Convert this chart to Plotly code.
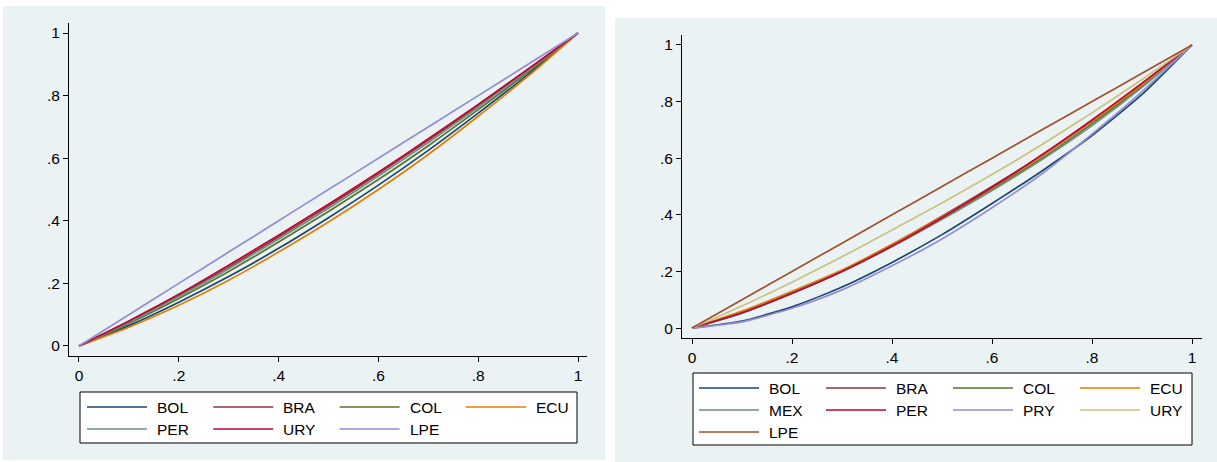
import plotly.graph_objects as go

W, H = 1217, 462

# ---------------- data ----------------
x_share = [0, 0.1, 0.2, 0.3, 0.4, 0.5, 0.6, 0.7, 0.8, 0.9, 1.0]

left_names = ["BOL", "BRA", "COL", "ECU", "PER", "URY", "LPE"]
left_BOL = [0, 0.065, 0.140, 0.222, 0.312, 0.410, 0.514, 0.625, 0.744, 0.868, 1]
left_BRA = [0, 0.078, 0.162, 0.252, 0.348, 0.447, 0.550, 0.657, 0.768, 0.883, 1]
left_COL = [0, 0.072, 0.152, 0.238, 0.332, 0.430, 0.532, 0.640, 0.755, 0.875, 1]
left_ECU = [0, 0.060, 0.130, 0.210, 0.300, 0.396, 0.500, 0.612, 0.734, 0.862, 1]
left_PER = [0, 0.075, 0.158, 0.247, 0.342, 0.440, 0.543, 0.650, 0.763, 0.880, 1]
left_URY = [0, 0.080, 0.165, 0.258, 0.354, 0.453, 0.555, 0.662, 0.772, 0.885, 1]
left_LPE = [0, 0.1, 0.2, 0.3, 0.4, 0.5, 0.6, 0.7, 0.8, 0.9, 1]

right_names = ["BOL", "BRA", "COL", "ECU", "MEX", "PER", "PRY", "URY", "LPE"]
right_BOL = [0, 0.025, 0.075, 0.145, 0.232, 0.330, 0.440, 0.555, 0.680, 0.825, 1]
right_BRA = [0, 0.055, 0.126, 0.203, 0.295, 0.395, 0.500, 0.610, 0.730, 0.860, 1]
right_COL = [0, 0.053, 0.122, 0.200, 0.288, 0.385, 0.490, 0.600, 0.722, 0.855, 1]
right_ECU = [0, 0.060, 0.130, 0.205, 0.295, 0.392, 0.495, 0.608, 0.730, 0.860, 1]
right_MEX = [0, 0.054, 0.124, 0.200, 0.288, 0.384, 0.486, 0.595, 0.715, 0.850, 1]
right_PER = [0, 0.054, 0.123, 0.200, 0.290, 0.390, 0.497, 0.612, 0.735, 0.865, 1]
right_PRY = [0, 0.022, 0.070, 0.135, 0.220, 0.315, 0.425, 0.545, 0.685, 0.835, 1]
right_URY = [0, 0.078, 0.162, 0.252, 0.346, 0.442, 0.542, 0.648, 0.760, 0.878, 1]
right_LPE = [0, 0.1, 0.2, 0.3, 0.4, 0.5, 0.6, 0.7, 0.8, 0.9, 1]

tick_vals = [0, 0.2, 0.4, 0.6, 0.8, 1]
tick_text = ["0", ".2", ".4", ".6", ".8", "1"]

# ---------------- styles ----------------
left_colors = {"BOL": "#1A476F", "BRA": "#90353B", "COL": "#55752F", "ECU": "#E37E00",
               "PER": "#6E8E84", "URY": "#C10534", "LPE": "#938DD2"}
right_colors = {"BOL": "#1A476F", "BRA": "#90353B", "COL": "#55752F", "ECU": "#E37E00",
                "MEX": "#6E8E84", "PER": "#C10534", "PRY": "#938DD2", "URY": "#CAC27E",
                "LPE": "#A0522D"}
BG = "#EAF2F3"
FONT = "Liberation Sans, Arial, sans-serif"
FS = 15.5
LW = 1.7

left_data = dict(BOL=left_BOL, BRA=left_BRA, COL=left_COL, ECU=left_ECU,
                 PER=left_PER, URY=left_URY, LPE=left_LPE)
right_data = dict(BOL=right_BOL, BRA=right_BRA, COL=right_COL, ECU=right_ECU,
                  MEX=right_MEX, PER=right_PER, PRY=right_PRY, URY=right_URY, LPE=right_LPE)

def px(x):
    return x / W

def py(y):
    return 1 - y / H

fig = go.Figure()

for name in left_names:
    fig.add_trace(go.Scatter(x=x_share, y=left_data[name], mode="lines", name=name,
                             line=dict(color=left_colors[name], width=LW, shape="spline", smoothing=0.6),
                             xaxis="x", yaxis="y", showlegend=False))
for name in right_names:
    fig.add_trace(go.Scatter(x=x_share, y=right_data[name], mode="lines", name=name,
                             line=dict(color=right_colors[name], width=LW, shape="spline", smoothing=0.6),
                             xaxis="x2", yaxis="y2", showlegend=False))

shapes = []
annotations = []
# panel backgrounds
shapes.append(dict(type="rect", xref="paper", yref="paper", x0=px(3), x1=px(605), y0=py(460), y1=py(6),
                   fillcolor=BG, line=dict(width=0), layer="below"))
shapes.append(dict(type="rect", xref="paper", yref="paper", x0=px(615), x1=px(1217), y0=py(462), y1=py(18),
                   fillcolor=BG, line=dict(width=0), layer="below"))

def add_legend(names, cmap, box, x_start, col_step, y_start, row_step):
    bx0, by0, bx1, by1 = box
    shapes.append(dict(type="rect", xref="paper", yref="paper", x0=px(bx0), x1=px(bx1),
                       y0=py(by1), y1=py(by0), fillcolor="white", line=dict(color="black", width=1)))
    for i, name in enumerate(names):
        col, row = i % 4, i // 4
        lx = x_start + col * col_step
        ly = y_start + row * row_step
        shapes.append(dict(type="line", xref="paper", yref="paper", x0=px(lx), x1=px(lx + 60),
                           y0=py(ly), y1=py(ly), line=dict(color=cmap[name], width=LW)))
        annotations.append(dict(xref="paper", yref="paper", x=px(lx + 68), y=py(ly), text=name,
                                showarrow=False, xanchor="left", yanchor="middle",
                                font=dict(family=FONT, size=FS, color="black")))

add_legend(left_names, left_colors, (80, 392, 577, 443), 87, 126.3, 407, 22)
add_legend(right_names, right_colors, (693, 373, 1192, 445), 699, 127, 388, 22)

axis_common = dict(tickmode="array", tickvals=tick_vals, ticktext=tick_text,
                   ticks="outside", ticklen=5, tickwidth=1, tickcolor="black",
                   showline=True, linecolor="black", linewidth=1, zeroline=False,
                   tickfont=dict(family=FONT, size=FS, color="black"))

fig.update_layout(
    width=W, height=H,
    margin=dict(l=0, r=0, t=0, b=0),
    paper_bgcolor="white", plot_bgcolor="white",
    showlegend=False,
    xaxis=dict(domain=[px(69), px(587)], range=[-0.02, 1.018], showgrid=False, anchor="y", **axis_common),
    yaxis=dict(domain=[py(356), py(23)], range=[-0.032, 1.032], showgrid=True, gridcolor=BG, gridwidth=1,
               anchor="x", **axis_common),
    xaxis2=dict(domain=[px(682), px(1202)], range=[-0.02, 1.02], showgrid=False, anchor="y2", **axis_common),
    yaxis2=dict(domain=[py(338), py(35)], range=[-0.035, 1.035], showgrid=True, gridcolor=BG, gridwidth=1,
                anchor="x2", **axis_common),
    shapes=shapes,
    annotations=annotations,
)

fig.write_html("out.html")
